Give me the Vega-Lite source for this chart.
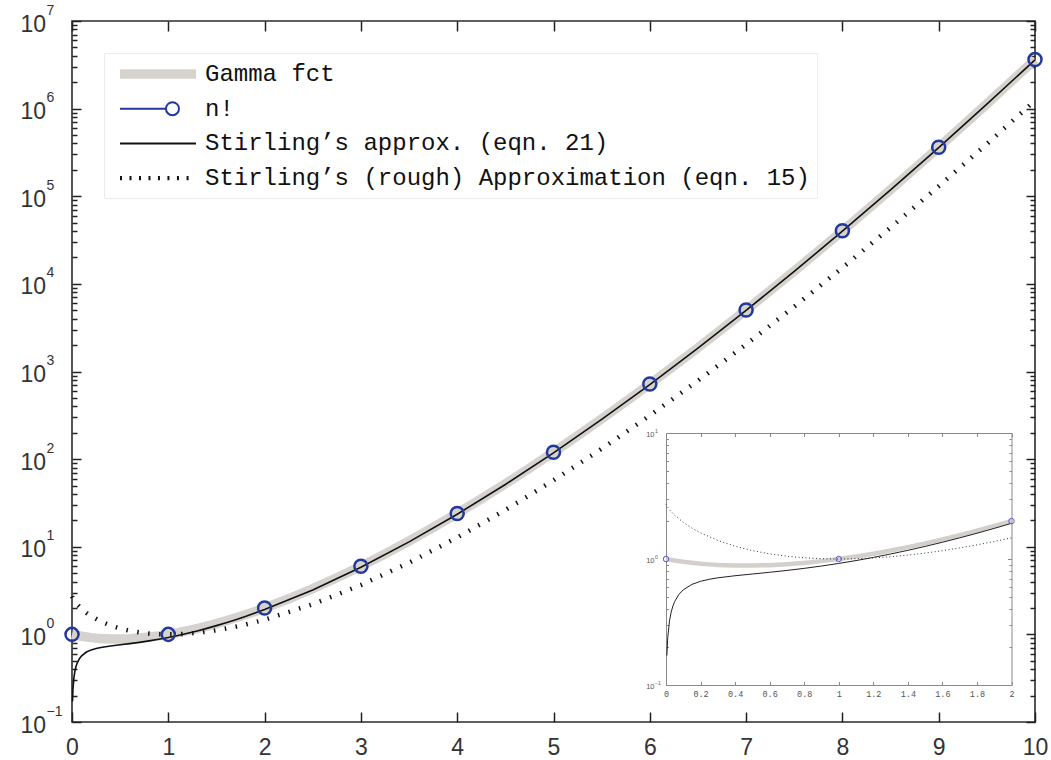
{
  "$schema": "https://vega.github.io/schema/vega-lite/v6.json",
  "width": 963,
  "height": 701,
  "autosize": {"type": "none"},
  "padding": {"left": 72, "top": 21, "right": 16, "bottom": 38},
  "background": "white",
  "config": {
    "view": {"stroke": "#2b2b2b", "strokeWidth": 1.6},
    "axis": {"grid": false, "labelFlush": false, "labelOverlap": false}
  },
  "datasets": {
    "gamma": [
      {"x": 0, "y": 1}, {"x": 0.05, "y": 0.9735}, {"x": 0.1, "y": 0.95135}, {"x": 0.2, "y": 0.91817},
      {"x": 0.25, "y": 0.9064}, {"x": 0.3, "y": 0.89747}, {"x": 0.4, "y": 0.88726}, {"x": 0.5, "y": 0.88623},
      {"x": 0.6, "y": 0.89352}, {"x": 0.7, "y": 0.90864}, {"x": 0.75, "y": 0.91906}, {"x": 0.8, "y": 0.93138},
      {"x": 0.9, "y": 0.96177}, {"x": 1, "y": 1}, {"x": 1.1, "y": 1.04649}, {"x": 1.2, "y": 1.1018},
      {"x": 1.25, "y": 1.133}, {"x": 1.3, "y": 1.16671}, {"x": 1.4, "y": 1.24217}, {"x": 1.5, "y": 1.32934},
      {"x": 1.6, "y": 1.42963}, {"x": 1.7, "y": 1.54469}, {"x": 1.75, "y": 1.60836}, {"x": 1.8, "y": 1.67649},
      {"x": 1.9, "y": 1.82736}, {"x": 2, "y": 2}, {"x": 2.25, "y": 2.5492}, {"x": 2.5, "y": 3.3234},
      {"x": 2.75, "y": 4.423}, {"x": 3, "y": 6}, {"x": 3.25, "y": 8.2846}, {"x": 3.5, "y": 11.632},
      {"x": 3.75, "y": 16.586}, {"x": 4, "y": 24}, {"x": 4.25, "y": 35.21}, {"x": 4.5, "y": 52.343},
      {"x": 4.75, "y": 78.785}, {"x": 5, "y": 120}, {"x": 5.25, "y": 184.85}, {"x": 5.5, "y": 287.89},
      {"x": 5.75, "y": 453.01}, {"x": 6, "y": 720}, {"x": 6.25, "y": 1155.3}, {"x": 6.5, "y": 1871.3},
      {"x": 6.75, "y": 3057.8}, {"x": 7, "y": 5040}, {"x": 7.25, "y": 8376}, {"x": 7.5, "y": 14035},
      {"x": 7.75, "y": 23698}, {"x": 8, "y": 40320}, {"x": 8.25, "y": 69102}, {"x": 8.5, "y": 119298},
      {"x": 8.75, "y": 207358}, {"x": 9, "y": 362880}, {"x": 9.25, "y": 639194}, {"x": 9.5, "y": 1133331},
      {"x": 9.75, "y": 2021741}, {"x": 10, "y": 3628800}
    ],
    "nfact": [
      {"x": 0, "y": 1}, {"x": 1, "y": 1}, {"x": 2, "y": 2}, {"x": 3, "y": 6}, {"x": 4, "y": 24},
      {"x": 5, "y": 120}, {"x": 6, "y": 720}, {"x": 7, "y": 5040}, {"x": 8, "y": 40320},
      {"x": 9, "y": 362880}, {"x": 10, "y": 3628800}
    ],
    "stirling": [
      {"x": 0.005, "y": 0.1717}, {"x": 0.01, "y": 0.237}, {"x": 0.02, "y": 0.3213}, {"x": 0.03, "y": 0.3793},
      {"x": 0.04, "y": 0.4235}, {"x": 0.05, "y": 0.459}, {"x": 0.075, "y": 0.5244}, {"x": 0.1, "y": 0.5697},
      {"x": 0.15, "y": 0.6287}, {"x": 0.2, "y": 0.6652}, {"x": 0.25, "y": 0.6902}, {"x": 0.3, "y": 0.7088},
      {"x": 0.4, "y": 0.7366}, {"x": 0.5, "y": 0.7602}, {"x": 0.6, "y": 0.7843}, {"x": 0.7, "y": 0.8113},
      {"x": 0.8, "y": 0.8427}, {"x": 0.9, "y": 0.8794}, {"x": 1, "y": 0.9221}, {"x": 1.1, "y": 0.9718},
      {"x": 1.2, "y": 1.0293}, {"x": 1.3, "y": 1.0955}, {"x": 1.4, "y": 1.1714}, {"x": 1.5, "y": 1.2585},
      {"x": 1.6, "y": 1.3579}, {"x": 1.7, "y": 1.4716}, {"x": 1.8, "y": 1.6013}, {"x": 1.9, "y": 1.7496},
      {"x": 2, "y": 1.919}, {"x": 2.5, "y": 3.215}, {"x": 3, "y": 5.8362}, {"x": 3.5, "y": 11.359},
      {"x": 4, "y": 23.506}, {"x": 4.5, "y": 51.384}, {"x": 5, "y": 118.02}, {"x": 5.5, "y": 283.57},
      {"x": 6, "y": 710.08}, {"x": 6.5, "y": 1847.5}, {"x": 7, "y": 4980.4}, {"x": 7.5, "y": 13880},
      {"x": 8, "y": 39902}, {"x": 8.5, "y": 118135}, {"x": 9, "y": 359535}, {"x": 9.5, "y": 1123437},
      {"x": 10, "y": 3598690}
    ],
    "rough": [
      {"x": 0, "y": 2.7183}, {"x": 0.01, "y": 2.5701}, {"x": 0.025, "y": 2.4176}, {"x": 0.05, "y": 2.226},
      {"x": 0.1, "y": 1.9537}, {"x": 0.15, "y": 1.7602}, {"x": 0.2, "y": 1.613}, {"x": 0.3, "y": 1.4033},
      {"x": 0.4, "y": 1.263}, {"x": 0.5, "y": 1.1658}, {"x": 0.6, "y": 1.098}, {"x": 0.7, "y": 1.0516},
      {"x": 0.8, "y": 1.0217}, {"x": 0.9, "y": 1.0052}, {"x": 1, "y": 1}, {"x": 1.1, "y": 1.0049},
      {"x": 1.2, "y": 1.019}, {"x": 1.3, "y": 1.0419}, {"x": 1.4, "y": 1.0736}, {"x": 1.5, "y": 1.1143},
      {"x": 1.6, "y": 1.1642}, {"x": 1.7, "y": 1.2239}, {"x": 1.8, "y": 1.2944}, {"x": 1.9, "y": 1.3765},
      {"x": 2, "y": 1.4715}, {"x": 2.5, "y": 2.2049}, {"x": 3, "y": 3.6542}, {"x": 3.5, "y": 6.5843},
      {"x": 4, "y": 12.747}, {"x": 4.5, "y": 26.269}, {"x": 5, "y": 57.246}, {"x": 5.5, "y": 131.14},
      {"x": 6, "y": 314.45}, {"x": 6.5, "y": 785.8}, {"x": 7, "y": 2041.3}, {"x": 7.5, "y": 5495.6},
      {"x": 8, "y": 15299}, {"x": 8.5, "y": 43939}, {"x": 9, "y": 129966}, {"x": 9.5, "y": 395250},
      {"x": 10, "y": 1234098}
    ]
  },
  "layer": [
    {
      "data": {"name": "gamma"},
      "mark": {"type": "line", "strokeWidth": 9.5, "strokeCap": "butt"},
      "encoding": {
        "x": {"field": "x", "type": "quantitative",
          "scale": {"domain": [0, 10], "nice": false, "zero": false},
          "axis": {"orient": "bottom", "title": null, "values": [0,1,2,3,4,5,6,7,8,9,10], "ticks": false, "domain": false,
            "labelFont": "Liberation Sans", "labelFontSize": 23, "labelColor": "#333", "labelPadding": 14}},
        "y": {"field": "y", "type": "quantitative",
          "scale": {"type": "log", "domain": [0.1, 10000000], "nice": false},
          "axis": {"orient": "left", "title": null, "values": [0.1,1,10,100,1000,10000,100000,1000000,10000000], "ticks": false, "domain": false,
            "labelExpr": "'10'", "labelAlign": "left", "labelBaseline": "middle", "labelPadding": 52, "labelOffset": 3,
            "labelFont": "Liberation Sans", "labelFontSize": 23, "labelColor": "#333"}},
        "color": {"datum": "Gamma fct", "type": "nominal",
          "scale": {"domain": ["Gamma fct", "n!", "Stirling’s approx. (eqn. 21)", "Stirling’s (rough) Approximation (eqn. 15)"],
                    "range": ["#d6d3ce", "#23389b", "#111111", "#111111"]},
          "legend": {
            "orient": "none", "legendX": 32, "legendY": 32, "title": null, "direction": "vertical",
            "fillColor": "white", "strokeColor": "#ececec", "padding": 7, "cornerRadius": 0,
            "symbolType": "stroke", "symbolSize": 676, "symbolOffset": 9, "symbolStrokeWidth": 2, "rowPadding": 8.7,
            "labelFont": "Liberation Mono", "labelFontSize": 24, "labelColor": "#111", "labelOffset": 57, "labelLimit": 1000,
            "encode": {"symbols": {"update": {
              "shape": {"signal": "datum.index === 0 ? 'M-1,-0.29L4.69,-0.29L4.69,0.29L-1,0.29Z' : datum.index === 1 ? 'M-1.08,0L2.46,0M3.46,0A0.5,0.5,0,1,1,2.46,0A0.5,0.5,0,1,1,3.46,0' : datum.index === 2 ? 'M-1.08,0L4.77,0' : 'M-1,-0.17L-1,0.17M-0.27,-0.17L-0.27,0.17M0.46,-0.17L0.46,0.17M1.19,-0.17L1.19,0.17M1.92,-0.17L1.92,0.17M2.65,-0.17L2.65,0.17M3.38,-0.17L3.38,0.17M4.12,-0.17L4.12,0.17'"},
              "fill": {"signal": "datum.index === 0 ? '#d6d3ce' : 'transparent'"},
              "stroke": {"scale": "color", "field": "value"},
              "strokeWidth": {"value": 2},
              "size": {"value": 676},
              "opacity": {"value": 1}
            }}}
          }}
      }
    },
    {
      "data": {"name": "stirling"},
      "mark": {"type": "line", "strokeWidth": 1.6},
      "encoding": {
        "x": {"field": "x", "type": "quantitative",
          "scale": {"domain": [0, 10], "nice": false, "zero": false},
          "axis": {"orient": "bottom", "title": null, "values": [0,1,2,3,4,5,6,7,8,9,10], "labels": false, "domain": false,
            "tickSize": -10, "tickColor": "#222", "tickWidth": 1.5}},
        "y": {"field": "y", "type": "quantitative",
          "scale": {"type": "log", "domain": [0.1, 10000000], "nice": false},
          "axis": {"orient": "left", "title": null, "values": [0.1,1,10,100,1000,10000,100000,1000000,10000000], "ticks": false, "domain": false,
            "labelExpr": "replace('' + round(log(datum.value)/LN10), '-', '−')", "labelAlign": "left", "labelBaseline": "middle",
            "labelPadding": 26, "labelOffset": -11, "labelFont": "Liberation Sans", "labelFontSize": 14, "labelColor": "#333"}},
        "color": {"datum": "Stirling’s approx. (eqn. 21)", "type": "nominal"}
      }
    },
    {
      "data": {"name": "rough"},
      "mark": {"type": "line", "strokeWidth": 4.5, "strokeDash": [1.5, 9.5], "strokeCap": "butt"},
      "encoding": {
        "x": {"field": "x", "type": "quantitative",
          "scale": {"domain": [0, 10], "nice": false, "zero": false},
          "axis": {"orient": "top", "title": null, "values": [0,1,2,3,4,5,6,7,8,9,10], "labels": false, "domain": false,
            "tickSize": -10, "tickColor": "#222", "tickWidth": 1.5}},
        "y": {"field": "y", "type": "quantitative",
          "scale": {"type": "log", "domain": [0.1, 10000000], "nice": false},
          "axis": {"orient": "left", "title": null, "labels": false, "domain": false,
            "values": [0.1,0.2,0.3,0.4,0.5,0.6,0.7,0.8,0.9,1,2,3,4,5,6,7,8,9,10,20,30,40,50,60,70,80,90,100,200,300,400,500,600,700,800,900,1000,2000,3000,4000,5000,6000,7000,8000,9000,10000,20000,30000,40000,50000,60000,70000,80000,90000,100000,200000,300000,400000,500000,600000,700000,800000,900000,1000000,2000000,3000000,4000000,5000000,6000000,7000000,8000000,9000000,10000000],
            "tickSize": {"condition": {"test": "abs(log(datum.value)/LN10 - round(log(datum.value)/LN10)) < 0.000001", "value": -9}, "value": -5},
            "tickColor": "#222", "tickWidth": 1.5}},
        "color": {"datum": "Stirling’s (rough) Approximation (eqn. 15)", "type": "nominal"}
      }
    },
    {
      "data": {"name": "nfact"},
      "mark": {"type": "point", "shape": "circle", "filled": false, "size": 170, "strokeWidth": 2.5, "opacity": 1},
      "encoding": {
        "x": {"field": "x", "type": "quantitative",
          "scale": {"domain": [0, 10], "nice": false, "zero": false}, "axis": null},
        "y": {"field": "y", "type": "quantitative",
          "scale": {"type": "log", "domain": [0.1, 10000000], "nice": false},
          "axis": {"orient": "right", "title": null, "labels": false, "domain": false,
            "values": [0.1,0.2,0.3,0.4,0.5,0.6,0.7,0.8,0.9,1,2,3,4,5,6,7,8,9,10,20,30,40,50,60,70,80,90,100,200,300,400,500,600,700,800,900,1000,2000,3000,4000,5000,6000,7000,8000,9000,10000,20000,30000,40000,50000,60000,70000,80000,90000,100000,200000,300000,400000,500000,600000,700000,800000,900000,1000000,2000000,3000000,4000000,5000000,6000000,7000000,8000000,9000000,10000000],
            "tickSize": {"condition": {"test": "abs(log(datum.value)/LN10 - round(log(datum.value)/LN10)) < 0.000001", "value": -9}, "value": -5},
            "tickColor": "#222", "tickWidth": 1.5}},
        "color": {"datum": "n!", "type": "nominal"}
      }
    },
    {
      "data": {"name": "gamma"},
      "transform": [{"filter": "datum.x <= 2"}],
      "mark": {"type": "line", "strokeWidth": 4.5, "strokeCap": "butt", "color": "#d3d0cb"},
      "encoding": {
        "x": {"field": "x", "type": "quantitative",
          "scale": {"domain": [0, 2], "nice": false, "zero": false, "range": [594, 939.5]},
          "axis": {"orient": "bottom", "offset": -37, "title": null, "values": [0,0.2,0.4,0.6,0.8,1,1.2,1.4,1.6,1.8,2], "ticks": false,
            "domain": true, "domainColor": "#8a8a8a", "domainWidth": 1,
            "labelExpr": "'' + datum.value", "labelFont": "Liberation Mono", "labelFontSize": 8.5, "labelColor": "#555", "labelPadding": 4}},
        "y": {"field": "y", "type": "quantitative",
          "scale": {"type": "log", "domain": [0.1, 10], "nice": false, "range": [664, 412]},
          "axis": {"orient": "left", "offset": -594, "title": null, "values": [0.1, 1, 10], "ticks": false,
            "domain": true, "domainColor": "#8a8a8a", "domainWidth": 1,
            "labelExpr": "'10'", "labelAlign": "right", "labelBaseline": "middle", "labelPadding": 12, "labelOffset": 1,
            "labelFont": "Liberation Sans", "labelFontSize": 7.5, "labelColor": "#555"}}
      }
    },
    {
      "data": {"name": "stirling"},
      "transform": [{"filter": "datum.x <= 2"}],
      "mark": {"type": "line", "strokeWidth": 1, "color": "#222"},
      "encoding": {
        "x": {"field": "x", "type": "quantitative",
          "scale": {"domain": [0, 2], "nice": false, "zero": false, "range": [594, 939.5]},
          "axis": {"orient": "bottom", "offset": -37, "title": null, "values": [0,0.2,0.4,0.6,0.8,1,1.2,1.4,1.6,1.8,2], "labels": false,
            "domain": false, "tickSize": -3.5, "tickColor": "#8a8a8a", "tickWidth": 1}},
        "y": {"field": "y", "type": "quantitative",
          "scale": {"type": "log", "domain": [0.1, 10], "nice": false, "range": [664, 412]},
          "axis": {"orient": "left", "offset": -594, "title": null, "values": [0.1, 1, 10], "ticks": false, "domain": false,
            "labelExpr": "replace('' + round(log(datum.value)/LN10), '-', '−')", "labelAlign": "left", "labelBaseline": "middle",
            "labelPadding": 11.5, "labelOffset": -3, "labelFont": "Liberation Sans", "labelFontSize": 5, "labelColor": "#555"}}
      }
    },
    {
      "data": {"name": "rough"},
      "transform": [{"filter": "datum.x <= 2"}],
      "mark": {"type": "line", "strokeWidth": 1, "strokeDash": [1, 2.5], "color": "#333"},
      "encoding": {
        "x": {"field": "x", "type": "quantitative",
          "scale": {"domain": [0, 2], "nice": false, "zero": false, "range": [594, 939.5]},
          "axis": {"orient": "top", "offset": -412, "title": null, "values": [0,0.2,0.4,0.6,0.8,1,1.2,1.4,1.6,1.8,2], "labels": false,
            "domain": true, "domainColor": "#8a8a8a", "domainWidth": 1, "tickSize": -3.5, "tickColor": "#8a8a8a", "tickWidth": 1}},
        "y": {"field": "y", "type": "quantitative",
          "scale": {"type": "log", "domain": [0.1, 10], "nice": false, "range": [664, 412]},
          "axis": {"orient": "left", "offset": -594, "title": null, "labels": false, "domain": false,
            "values": [0.1,0.2,0.3,0.4,0.5,0.6,0.7,0.8,0.9,1,2,3,4,5,6,7,8,9,10],
            "tickSize": {"condition": {"test": "abs(log(datum.value)/LN10 - round(log(datum.value)/LN10)) < 0.000001", "value": -4}, "value": -2.5},
            "tickColor": "#8a8a8a", "tickWidth": 1}}
      }
    },
    {
      "data": {"name": "nfact"},
      "transform": [{"filter": "datum.x <= 2"}],
      "mark": {"type": "point", "shape": "circle", "filled": false, "size": 30, "strokeWidth": 1, "color": "#5a5ad6", "opacity": 1},
      "encoding": {
        "x": {"field": "x", "type": "quantitative",
          "scale": {"domain": [0, 2], "nice": false, "zero": false, "range": [594, 939.5]}, "axis": null},
        "y": {"field": "y", "type": "quantitative",
          "scale": {"type": "log", "domain": [0.1, 10], "nice": false, "range": [664, 412]},
          "axis": {"orient": "right", "offset": -23.5, "title": null, "labels": false,
            "domain": true, "domainColor": "#8a8a8a", "domainWidth": 1,
            "values": [0.1,0.2,0.3,0.4,0.5,0.6,0.7,0.8,0.9,1,2,3,4,5,6,7,8,9,10],
            "tickSize": {"condition": {"test": "abs(log(datum.value)/LN10 - round(log(datum.value)/LN10)) < 0.000001", "value": -4}, "value": -2.5},
            "tickColor": "#8a8a8a", "tickWidth": 1}}
      }
    }
  ],
  "resolve": {
    "scale": {"x": "independent", "y": "independent"},
    "axis": {"x": "independent", "y": "independent"}
  }
}
